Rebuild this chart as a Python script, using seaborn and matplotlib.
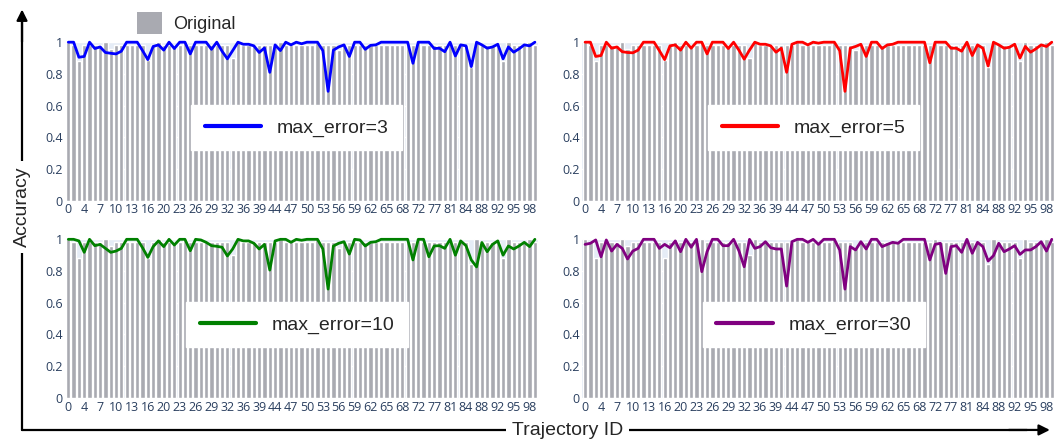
import numpy as np
import matplotlib.pyplot as plt
import seaborn as sns
from matplotlib.patches import Patch
from matplotlib.lines import Line2D

# trajectory ids shown on the x axis (some ids are missing)
traj_ids = [0, 1, 3, 4, 5, 6, 7, 8, 9, 10, 11, 12, 13, 14, 15, 16, 17, 19, 20, 21,
            22, 23, 24, 25, 26, 27, 28, 29, 30, 31, 32, 33, 35, 36, 37, 38, 39, 40, 43, 44,
            45, 46, 47, 48, 49, 50, 51, 52, 53, 54, 55, 56, 57, 58, 59, 60, 61, 62, 63, 64,
            65, 66, 67, 68, 69, 71, 72, 73, 75, 77, 78, 80, 81, 82, 83, 84, 85, 87, 88, 89,
            91, 92, 93, 94, 95, 96, 97, 98, 99]

original = [1.0, 0.985, 0.88, 0.985, 0.985, 0.985, 0.985, 1.0, 0.955, 0.985,
            0.985, 0.985, 0.985, 0.985, 0.985, 0.885, 0.985, 1.0, 0.985, 0.985,
            0.985, 0.985, 1.0, 0.985, 0.985, 0.985, 0.985, 0.985, 0.985, 0.985,
            0.985, 0.9, 1.0, 0.985, 0.985, 0.985, 0.985, 0.985, 0.985, 0.985,
            1.0, 0.985, 0.985, 0.985, 0.985, 0.985, 0.985, 1.0, 0.985, 0.985,
            0.985, 0.948, 0.985, 0.985, 0.985, 0.985, 0.985, 0.985, 0.985, 0.985,
            0.985, 0.985, 0.985, 0.985, 0.985, 0.985, 1.0, 0.985, 0.985, 0.985,
            0.985, 0.985, 0.985, 0.985, 0.985, 0.985, 0.845, 1.0, 0.985, 0.985,
            0.985, 0.985, 0.88, 1.0, 0.985, 0.985, 0.985, 1.0, 0.985]

err3 = [1.0, 1.0, 0.905, 0.91, 1.0, 0.96, 0.97, 0.935, 0.93, 0.926,
        0.943, 1.0, 1.0, 1.0, 0.947, 0.89, 0.973, 0.983, 0.95, 1.0,
        0.96, 1.0, 1.0, 0.926, 1.0, 1.0, 1.0, 0.955, 1.0, 0.943,
        0.895, 0.947, 1.0, 0.987, 0.987, 0.977, 0.935, 0.964, 0.81, 0.983,
        0.947, 1.0, 0.983, 1.0, 0.99, 1.0, 1.0, 1.0, 0.947, 0.69,
        0.95, 0.97, 0.983, 0.91, 1.0, 1.0, 0.955, 0.98, 0.983, 1.0,
        1.0, 1.0, 1.0, 1.0, 1.0, 0.867, 1.0, 1.0, 1.0, 0.96,
        0.962, 0.94, 1.0, 0.913, 0.983, 0.977, 0.846, 1.0, 0.983, 0.962,
        0.97, 0.987, 0.895, 0.97, 0.937, 0.958, 0.983, 0.977, 1.0]

err5 = [1.0, 1.0, 0.91, 0.916, 1.0, 0.962, 0.97, 0.94, 0.935, 0.933,
        0.95, 1.0, 1.0, 1.0, 0.947, 0.89, 0.977, 0.983, 0.95, 1.0,
        0.962, 1.0, 1.0, 0.926, 1.0, 1.0, 1.0, 0.96, 1.0, 0.95,
        0.893, 0.95, 1.0, 0.987, 0.987, 0.977, 0.937, 0.962, 0.81, 0.987,
        1.0, 1.0, 0.983, 1.0, 0.994, 1.0, 1.0, 1.0, 0.947, 0.69,
        0.962, 0.973, 0.987, 0.91, 1.0, 1.0, 0.96, 0.983, 0.987, 1.0,
        1.0, 1.0, 1.0, 1.0, 1.0, 0.87, 1.0, 1.0, 1.0, 0.962,
        0.962, 0.943, 1.0, 0.916, 0.983, 0.962, 0.85, 1.0, 0.983, 0.962,
        0.968, 0.987, 0.9, 0.973, 0.937, 0.958, 0.983, 0.973, 1.0]

err10 = [1.0, 1.0, 0.99, 0.918, 1.0, 0.96, 0.968, 0.943, 0.918, 0.926,
         0.943, 1.0, 1.0, 1.0, 0.947, 0.886, 0.954, 0.99, 0.954, 1.0,
         0.964, 1.0, 1.0, 0.928, 1.0, 0.996, 0.981, 0.96, 0.956, 0.95,
         0.895, 0.939, 1.0, 0.99, 0.99, 0.975, 0.939, 0.968, 0.806, 0.99,
         1.0, 1.0, 0.981, 1.0, 0.994, 1.0, 1.0, 1.0, 0.94, 0.686,
         0.958, 0.975, 0.985, 0.907, 1.0, 0.996, 0.958, 0.981, 0.985, 1.0,
         1.0, 1.0, 1.0, 1.0, 1.0, 0.87, 1.0, 1.0, 0.89, 0.958,
         0.96, 0.943, 1.0, 0.9, 0.99, 0.96, 0.87, 0.826, 0.98, 0.922,
         0.968, 0.99, 0.9, 0.958, 0.939, 0.958, 0.981, 0.954, 1.0]

err30 = [0.968, 0.975, 0.996, 0.89, 0.996, 0.926, 0.968, 0.943, 0.876, 0.926,
         0.943, 1.0, 1.0, 1.0, 0.943, 0.968, 0.947, 0.99, 0.922, 1.0,
         0.95, 1.0, 0.796, 0.922, 1.0, 1.0, 0.96, 0.96, 1.0, 0.928,
         0.827, 1.0, 0.943, 0.954, 0.985, 0.947, 0.939, 0.939, 0.705, 0.985,
         1.0, 1.0, 0.981, 1.0, 0.968, 1.0, 1.0, 1.0, 0.933, 0.686,
         0.954, 0.933, 0.985, 0.939, 1.0, 1.0, 0.954, 0.968, 0.981, 0.975,
         1.0, 1.0, 1.0, 1.0, 1.0, 0.87, 0.968, 0.975, 0.785, 0.954,
         0.96, 0.918, 1.0, 0.912, 0.981, 0.954, 0.863, 0.897, 0.975, 0.922,
         0.939, 0.96, 0.905, 0.933, 0.933, 0.954, 0.985, 0.926, 1.0]

series = [("max_error=3", err3, "#0000FF"),
          ("max_error=5", err5, "#FF0000"),
          ("max_error=10", err10, "#008000"),
          ("max_error=30", err30, "#800080")]

sns.set_theme(style="white")
plt.rcParams['font.family'] = ['Open Sans', 'DejaVu Sans']

bar_color = "#A9AAB1"
tick_color = "#2A3F5F"
label_font = ['Liberation Sans', 'DejaVu Sans']

fig = plt.figure(figsize=(10.59, 4.46), dpi=100)
boxes = [[0.062, 0.550, 0.4456, 0.3554],
         [0.550, 0.550, 0.4457, 0.3554],
         [0.062, 0.108, 0.4456, 0.3554],
         [0.550, 0.108, 0.4457, 0.3554]]

labels = [str(t) for t in traj_ids]
xs = np.arange(len(traj_ids))

for box, (name, vals, col) in zip(boxes, series):
    ax = fig.add_axes(box)
    ax.set_facecolor("#E5ECF6")
    sns.barplot(x=labels, y=original, order=labels, color=bar_color,
                saturation=1, width=0.8, ax=ax, zorder=2)
    sns.lineplot(x=xs, y=vals, color=col, lw=2, ax=ax, zorder=3)
    for ln in ax.lines:
        ln.set_clip_on(False)
    ax.set_ylim(0, 1)
    ax.set_xlim(-0.5, len(traj_ids) - 0.5)
    ax.set_yticks([0, 0.2, 0.4, 0.6, 0.8, 1])
    ax.set_yticklabels(["0", "0.2", "0.4", "0.6", "0.8", "1"])
    ax.set_xticks(xs[::3])
    ax.set_xticklabels(labels[::3])
    ax.tick_params(axis="both", length=0, pad=2, labelsize=9, colors=tick_color)
    ax.grid(axis="y", color="white", lw=1, zorder=1)
    ax.set_axisbelow(True)
    for s in ax.spines.values():
        s.set_visible(False)
    ax.set_xlabel("")
    ax.set_ylabel("")
    h = Line2D([0], [0], color=col, lw=3)
    ax.legend([h], [name], loc="center", bbox_to_anchor=(0.49, 0.46),
              frameon=True, fancybox=False, framealpha=1,
              facecolor="white", edgecolor="white", handlelength=2.9,
              borderpad=0.7, prop={'family': label_font, 'size': 14})

fig.legend([Patch(facecolor=bar_color, edgecolor="none")], ["Original"],
           loc="upper left", bbox_to_anchor=(0.114, 1.01), frameon=False,
           handlelength=1.4, handleheight=1.5, handletextpad=0.6,
           prop={'family': label_font, 'size': 13})

# big axis arrows around the grid
fig.add_artist(plt.Line2D([0.0208, 0.0208], [0.036, 0.95], color="black", lw=1.6))
plt.annotate("", xy=(0.0208, 0.985), xytext=(0.0208, 0.9), xycoords="figure fraction",
             arrowprops=dict(arrowstyle="-|>", color="black", lw=1.6, mutation_scale=16))
fig.add_artist(plt.Line2D([0.0208, 0.97], [0.036, 0.036], color="black", lw=1.6))
plt.annotate("", xy=(0.994, 0.036), xytext=(0.95, 0.036), xycoords="figure fraction",
             arrowprops=dict(arrowstyle="-|>", color="black", lw=1.6, mutation_scale=16))

fig.text(0.0208, 0.536, "Accuracy", rotation=90, ha="center", va="center",
         fontsize=14, family=label_font,
         bbox=dict(facecolor="white", edgecolor="none", pad=4))
fig.text(0.536, 0.034, "Trajectory ID", ha="center", va="center", fontsize=14,
         family=label_font,
         bbox=dict(facecolor="white", edgecolor="none", pad=4))

fig.savefig("out.png", dpi=100)
